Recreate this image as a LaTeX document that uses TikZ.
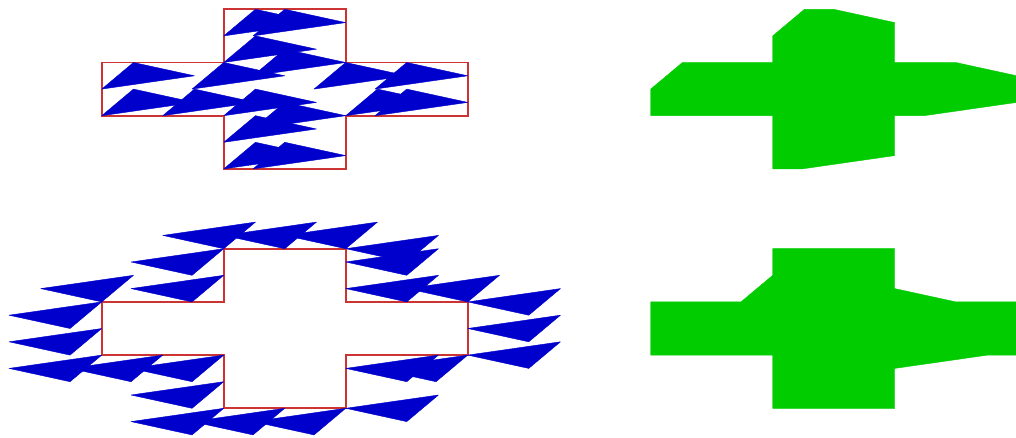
\documentclass[tikz,border=0pt]{standalone}
\usepackage{xcolor}
\usepackage{tikz}
\definecolor{trifill}{HTML}{0000CC}
\definecolor{crossline}{HTML}{CC3333}
\definecolor{shapefill}{HTML}{00CC00}
\newcommand{\crossoutline}{(1,0) -- (2,0) -- (2,1) -- (3,1) -- (3,2) -- (2,2) -- (2,3) -- (1,3) -- (1,2) -- (0,2) -- (0,1) -- (1,1) -- cycle}

\begin{document}
\begin{tikzpicture}[
  x=3.05cm, y=1.33cm,
  tri/.style={fill=trifill, draw=trifill, line width=0.3pt, line join=round},
  outline/.style={draw=crossline, line width=1.3pt},
  result/.style={fill=shapefill, draw=shapefill, line width=0.3pt},
]
\useasboundingbox (-0.834,-0.5395) rectangle (7.494,7.675);
% top left: triangle placed inside the cross
\begin{scope}[shift={(0,4.5)}]
  \draw[outline] \crossoutline;
  \foreach \x/\y in {0/1.5, 0/1, 0.5/1, 0.74/1.5, 1/1, 1/0.5, 1/0, 1.24/0, 1.24/0.75,
                     2/1, 2.24/1, 2.24/1.5, 1.74/1.5, 1.24/1.75, 1.24/2.5, 1/2.5, 1/2}
    \fill[tri] (\x,\y) -- ++(0.26,0.5) -- ++(0.5,-0.25) -- cycle;
\end{scope}
% bottom left: reflected triangle around the cross
\draw[outline] \crossoutline;
\foreach \x/\y in {1/0, 1.5/0, 2/0, 2.76/0.25, 2.76/1, 3/1, 3.76/1.25, 3.76/1.75, 3.76/2.25,
                   3.26/2.5, 2.76/2.5, 2.76/3, 2.76/3.25, 2.26/3.5, 1.76/3.5, 1.26/3.5, 1/3,
                   1/2.5, 0.26/2.5, 0/2, 0/1.5, 0/1, 0.5/1, 1/1, 1/0.5}
  \fill[tri] (\x,\y) -- ++(-0.26,-0.5) -- ++(-0.5,0.25) -- cycle;
% right: results
\begin{scope}[shift={(4.5,4.5)}]
  \fill[result] (0,1) -- (0,1.5) -- (0.26,2) -- (1,2) -- (1,2.5) -- (1.26,3) -- (1.5,3)
    -- (2,2.75) -- (2,2) -- (2.5,2) -- (3,1.75) -- (3,1.25) -- (2.24,1) -- (2,1)
    -- (2,0.25) -- (1.24,0) -- (1,0) -- (1,1) -- cycle;
\end{scope}
\begin{scope}[shift={(4.5,0)}]
  \fill[result] (0,1) -- (0,2) -- (0.74,2) -- (1,2.5) -- (1,3) -- (2,3) -- (2,2.25)
    -- (2.5,2) -- (3,2) -- (3,1) -- (2.76,1) -- (2,0.75) -- (2,0) -- (1,0) -- (1,1) -- cycle;
\end{scope}
\end{tikzpicture}
\end{document}
